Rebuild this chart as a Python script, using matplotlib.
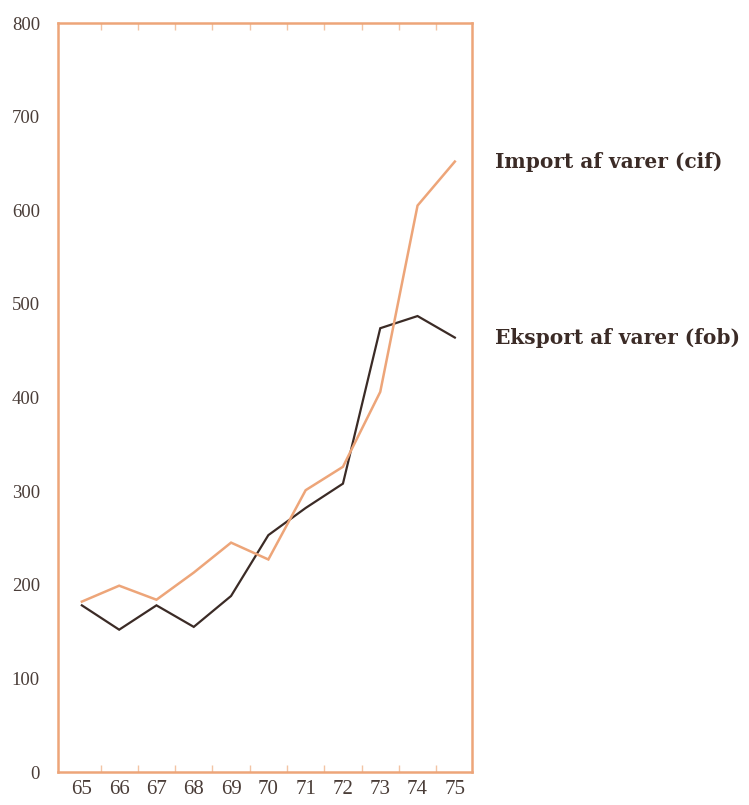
import matplotlib.pyplot as plt
import numpy as np

# Vareimport og -eksport, mia. kr., 1965-75
aar = [65, 66, 67, 68, 69, 70, 71, 72, 73, 74, 75]
import_cif = [182, 199, 184, 213, 245, 227, 301, 326, 406, 605, 652]
eksport_fob = [178, 152, 178, 155, 188, 253, 282, 308, 474, 487, 464]

y_ticks = [0, 100, 200, 300, 400, 500, 600, 700, 800]

orange = '#eda579'
brun = '#3b2b26'
tekst = '#4a3d38'

plt.rcParams['font.family'] = ['Liberation Serif', 'DejaVu Serif']

fig = plt.figure(figsize=(7.49, 8.05), dpi=100)
ax = fig.add_axes([58 / 749, 1 - 772 / 805, (472 - 58) / 749, (772 - 23) / 805])

ax.plot(aar, import_cif, color=orange, lw=1.8, solid_joinstyle='miter', zorder=3)
ax.plot(aar, eksport_fob, color=brun, lw=1.6, solid_joinstyle='miter', zorder=2)

ax.set_xlim(64.36, 75.46)
ax.set_ylim(0, 800)

for s in ax.spines.values():
    s.set_color(orange)
    s.set_linewidth(1.8)

ax.set_yticks(y_ticks)
ax.set_yticklabels([str(v) for v in y_ticks], fontsize=13.5, color=tekst)
ax.set_xticks(aar)
ax.set_xticklabels([str(a) for a in aar], fontsize=15, color=tekst)
ax.tick_params(axis='x', length=0, pad=6)
ax.tick_params(axis='y', length=0, pad=13)

# små streger mellem årene langs top og bund
ax.set_xticks(np.array(aar[:-1]) + 0.5, minor=True)
ax.tick_params(axis='x', which='minor', direction='in', length=5, color='#f3c4a4',
               width=1, top=True, bottom=True)

for tekst_y, navn in [(652, 'Import af varer (cif)'), (464, 'Eksport af varer (fob)')]:
    ax.text(1.055, tekst_y, navn, transform=ax.get_yaxis_transform(),
            fontsize=14.5, fontweight='bold', color=brun, va='center', ha='left',
            family='DejaVu Serif')

fig.savefig('out.png', dpi=100, facecolor='white')
